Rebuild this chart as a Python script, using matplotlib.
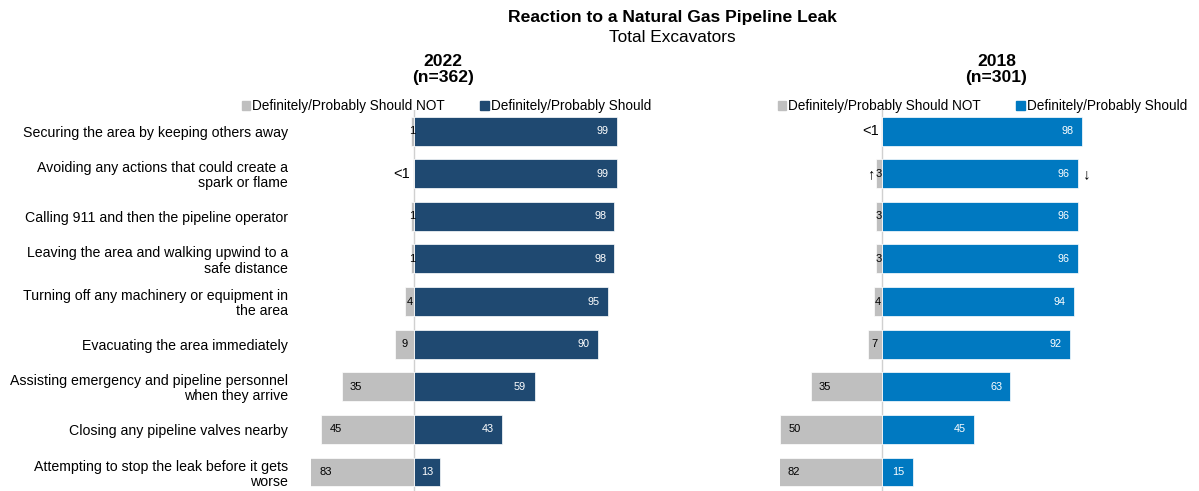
import matplotlib
matplotlib.use("Agg")
import matplotlib.pyplot as plt
from matplotlib.patches import Patch

plt.rcParams['font.family'] = ['Liberation Sans', 'DejaVu Sans']

categories = [
    "Securing the area by keeping others away",
    "Avoiding any actions that could create a\nspark or flame",
    "Calling 911 and then the pipeline operator",
    "Leaving the area and walking upwind to a\nsafe distance",
    "Turning off any machinery or equipment in\nthe area",
    "Evacuating the area immediately",
    "Assisting emergency and pipeline personnel\nwhen they arrive",
    "Closing any pipeline valves nearby",
    "Attempting to stop the leak before it gets\nworse",
]

should_2022 = [99, 99, 98, 98, 95, 90, 59, 43, 13]
not_2022 = [1, 0.4, 1, 1, 4, 9, 35, 45, 83]
not_2022_labels = ["1", "<1", "1", "1", "4", "9", "35", "45", "83"]

should_2018 = [98, 96, 96, 96, 94, 92, 63, 45, 15]
not_2018 = [0.4, 3, 3, 3, 4, 7, 35, 50, 82]
not_2018_labels = ["<1", "3", "3", "3", "4", "7", "35", "50", "82"]

gray = "#BFBFBF"
navy = "#1F4971"
blue = "#0079C1"

fig = plt.figure(figsize=(11.99, 4.91), dpi=100)


def panel(rect, should, nots, not_labels, color, show_labels):
    ax = fig.add_axes(rect)
    y = list(range(len(should)))
    ax.barh(y, should, height=0.68, color=color, edgecolor="white", linewidth=0.5)
    ax.barh(y, [-v for v in nots], height=0.68, color=gray, edgecolor="white", linewidth=0.5)
    ax.set_xlim(-50, 100)
    ax.set_ylim(len(should) - 0.5, -0.5)
    ax.axvline(0, color="#D0D0D0", lw=1, zorder=0)
    for i, v in enumerate(should):
        xc = max(v - 7, v / 2)
        ax.text(xc, i, str(v), color="white", fontsize=7.8, ha="center", va="center")
    for i, (v, lab) in enumerate(zip(nots, not_labels)):
        if lab == "<1":
            ax.text(-1.5, i, lab, color="black", fontsize=10.5, ha="right", va="center")
            continue
        left = max(-v, -50)
        xc = min(left + 7, left / 2)
        ax.text(xc, i, lab, color="black", fontsize=8, ha="center", va="center")
    for s in ax.spines.values():
        s.set_visible(False)
    ax.set_xticks([])
    ax.set_yticks(y)
    if show_labels:
        ax.set_yticklabels(categories, fontsize=10.2, ha="right", linespacing=1.1)
    else:
        ax.set_yticklabels([])
    ax.tick_params(axis="y", length=0, pad=16.5)
    return ax


ax1 = panel([0.2594, -0.0047, 0.2565, 0.781], should_2022, not_2022,
            not_2022_labels, navy, True)
ax2 = panel([0.6505, -0.0047, 0.2552, 0.781], should_2018, not_2018,
            not_2018_labels, blue, False)

# significance arrows in 2018 panel
ax2.text(-3.6, 1, "\u2191", fontsize=10.5, ha="right", va="center")
ax2.text(98.5, 1, "\u2193", fontsize=11, ha="left", va="center")

for ax, col, cx in [(ax1, navy, 0.3724), (ax2, blue, 0.8194)]:
    handles = [Patch(color=gray, label="Definitely/Probably Should NOT"),
               Patch(color=col, label="Definitely/Probably Should")]
    ax.legend(handles=handles, ncol=2, loc="center",
              bbox_to_anchor=(cx, 0.784), bbox_transform=fig.transFigure,
              frameon=False, fontsize=9.8, handlelength=0.6, handleheight=0.6,
              handletextpad=0.15, columnspacing=2.6, borderpad=0)

fig.text(0.5605, 0.965, "Reaction to a Natural Gas Pipeline Leak",
         ha="center", va="center", fontsize=12.6, fontweight="bold")
fig.text(0.5605, 0.924, "Total Excavators", ha="center", va="center", fontsize=12.4)
fig.text(0.3695, 0.858, "2022\n(n=362)", ha="center", va="center",
         fontsize=12.6, fontweight="bold", linespacing=1.1)
fig.text(0.831, 0.858, "2018\n(n=301)", ha="center", va="center",
         fontsize=12.6, fontweight="bold", linespacing=1.1)

fig.savefig("out.png", dpi=100)
